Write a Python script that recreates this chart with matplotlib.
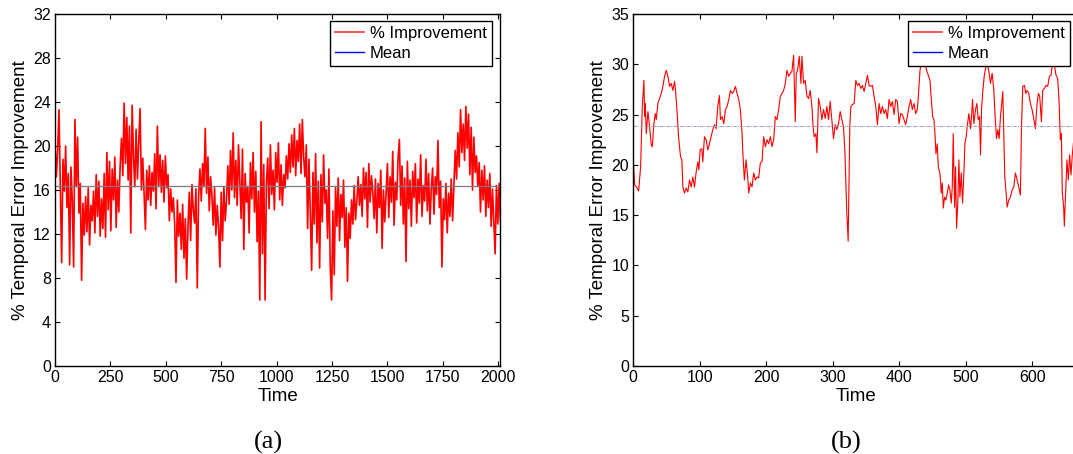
import matplotlib
matplotlib.use('Agg')
import matplotlib.pyplot as plt
from matplotlib.lines import Line2D

plt.rcParams['font.family'] = ['Liberation Sans', 'DejaVu Sans']

# (a) % improvement, one sample read every 6 time steps
a_step = 6
a_value = [
    20.4, 17.2, 19.6, 23.3, 16.1, 9.4, 18.8, 15.9, 20.0, 14.4,
    17.5, 9.2, 18.1, 15.0, 9.0, 22.4, 16.3, 20.8, 13.9, 16.6,
    7.8, 14.8, 11.9, 15.4, 12.2, 16.2, 11.0, 14.6, 13.2, 15.9,
    12.1, 17.4, 13.6, 16.8, 11.8, 15.2, 12.5, 17.5, 11.7, 19.4,
    14.2, 18.6, 12.3, 17.9, 15.1, 19.0, 12.6, 16.9, 14.0, 18.2,
    20.7, 17.3, 23.9, 18.4, 22.6, 16.9, 21.8, 12.1, 23.7, 19.2,
    16.3, 21.5, 17.0, 20.4, 23.4, 16.0, 18.9, 15.6, 12.4, 17.8,
    15.1, 18.2, 14.6, 17.6, 15.9, 19.3, 14.3, 21.8, 16.4, 19.2,
    15.8, 18.7, 14.9, 19.1, 16.2, 17.4, 13.2, 16.1, 14.0, 15.3,
    12.9, 7.6, 15.1, 11.8, 13.9, 10.6, 14.7, 9.8, 13.4, 7.9,
    12.6, 15.8, 11.4, 16.5, 14.2, 13.0, 16.1, 7.1, 15.4, 17.9,
    15.0, 18.4, 16.3, 21.6, 15.7, 19.0, 14.1, 17.2, 15.5, 12.8,
    16.2, 11.9, 14.6, 12.7, 9.0, 15.8, 11.4, 16.3, 13.2, 15.1,
    18.2, 14.7, 19.6, 16.0, 21.2, 15.3, 18.7, 14.6, 20.1, 16.8,
    13.4, 19.7, 10.6, 17.5, 14.9, 16.3, 12.1, 18.5, 15.2, 19.4,
    14.0, 17.7, 11.3, 15.9, 6.0, 22.2, 10.2, 18.3, 6.0, 16.6,
    18.9, 14.3, 20.1, 15.6, 17.8, 14.2, 19.4, 16.7, 20.3, 15.1,
    18.3, 14.6, 17.4, 16.2, 19.1, 17.0, 20.2, 17.6, 21.0, 18.1,
    21.6, 17.3, 20.5, 18.6, 22.0, 17.5, 22.4, 19.0, 17.2, 20.1,
    12.5, 18.8, 14.0, 8.7, 17.6, 12.9, 19.3, 11.2, 16.8, 8.9,
    17.4, 13.1, 19.2, 14.8, 16.0, 11.6, 17.9, 9.0, 6.0, 14.1,
    8.3, 16.2, 12.7, 17.1, 11.4, 15.6, 13.5, 16.9, 10.8, 14.4,
    7.7, 13.9, 11.6, 15.1, 12.9, 16.4, 13.3, 15.0, 17.2, 14.6,
    16.5, 13.6, 18.0, 15.2, 17.6, 12.6, 18.4, 14.9, 17.3, 15.8,
    13.4, 17.0, 12.1, 16.6, 14.4, 17.8, 10.7, 16.0, 13.1, 15.7,
    18.4, 13.5, 17.2, 14.9, 19.5, 12.8, 16.7, 15.1, 18.9, 20.6,
    14.6, 18.2, 12.9, 17.1, 9.5, 18.6, 14.3, 16.9, 12.7, 17.7,
    15.3, 18.4, 13.0, 17.0, 14.8, 19.2, 13.6, 16.4, 15.0, 18.8,
    14.1, 17.5, 12.9, 16.2, 18.0, 13.8, 17.2, 15.6, 20.5, 14.4,
    16.8, 9.0, 15.2, 13.3, 16.6, 12.1, 15.7, 13.6, 17.0, 13.2,
    16.3, 19.6, 17.0, 21.2, 18.1, 23.3, 19.4, 22.0, 18.7, 23.6,
    19.8, 22.9, 17.4, 21.7, 16.0, 20.8, 17.6, 19.1, 16.3, 18.5,
    14.0, 17.8, 15.1, 18.2, 13.6, 16.9, 14.4, 17.5, 12.7, 16.1,
    13.2, 10.2, 16.4, 12.9, 16.6, 13.1,
]
a_time = [i * a_step for i in range(len(a_value))]
a_mean = 16.4

# (b) % improvement
b_time = [
    0, 2, 5, 8, 11, 13.5, 16, 17, 18, 19.5,
    22, 24.5, 27, 28.5, 31, 33, 34.5, 37, 39.5, 42,
    44.5, 47, 49.5, 52, 54.5, 57, 59.5, 62, 63.5, 66,
    68, 71, 73, 74.5, 77, 79.5, 82, 84.5, 87, 89.5,
    92, 94.5, 97, 98.5, 100.5, 103, 104.5, 107, 109.5, 112,
    114.5, 117, 119.5, 122, 124.5, 127, 129.5, 131, 133.5, 136,
    138.5, 141, 143.5, 146, 148.5, 151, 153.5, 156, 158.5, 161,
    163.5, 165, 167, 169.5, 172, 173.5, 176, 178.5, 181, 183.5,
    186, 188.5, 191, 193.5, 196, 198.5, 201, 203.5, 206, 208.5,
    211, 213.5, 216, 218.5, 221, 223.5, 226, 228.5, 231, 233.5,
    236, 238.5, 241, 243.5, 245, 247, 249.5, 252, 253.5, 256,
    258.5, 261, 263.5, 266, 268.5, 270.5, 272, 274.5, 276, 278.5,
    281, 283.5, 286, 288.5, 291, 293.5, 296, 298.5, 301, 303.5,
    306, 308.5, 311, 313.5, 316,
    318, 321, 323, 325.5, 327, 329.5, 332, 334.5, 337, 339.5,
    342, 344.5, 347, 349.5, 352, 354.5, 357, 359.5, 362, 364.5,
    367, 369.5, 372, 374.5, 377, 379.5, 382, 384.5, 387, 389.5,
    392, 394.5, 397, 399.5, 402, 404.5, 407, 409.5, 412, 414.5,
    417, 419.5, 422, 424.5, 427, 428.5, 431, 433.5, 436, 438.5,
    441, 443.5, 446, 448, 450, 452, 453.5, 455, 457, 458.5,
    461, 463, 464.5, 466, 468, 470, 472, 474, 476, 478,
    479.5, 481, 483, 484.5, 486, 488, 489.5, 491, 493, 495,
    497, 498.5, 500.5, 502.5, 504.5, 507, 508.5, 510, 512, 514.5,
    516.5, 518.5, 520.5, 522, 523.5, 525.5, 527.5, 529.5, 532, 534.5,
    537, 539.5, 542, 544, 546, 548, 550, 552, 553.5, 555.5,
    557, 558.5, 560.5, 562, 564.5, 567, 569.5, 572, 574.5, 577,
    579.5, 582, 583.5, 585.5, 588, 590, 592, 594.5, 597, 599.5,
    602, 604.5, 607, 609, 611, 613.5, 615.5, 618, 620.5, 623,
    625.5, 628, 630.5, 633, 635.5, 638, 640, 642, 643.5, 645,
    647, 648, 649.5, 652, 654, 656, 658, 660, 662, 665,
    668,
]
b_value = [
    20.4, 18.0, 17.8, 17.4, 19.8, 25.8, 28.4, 24.8, 26.1, 23.1,
    25.3, 23.8, 22.0, 21.8, 24.1, 25.1, 24.5, 26.1, 26.6, 27.1,
    27.8, 28.8, 29.4, 28.8, 27.8, 28.1, 27.4, 28.3, 27.4, 25.1,
    22.8, 20.8, 20.5, 17.8, 17.2, 17.7, 17.3, 18.5, 17.8, 18.8,
    17.8, 19.3, 20.3, 19.5, 21.5, 21.6, 20.3, 22.8, 22.5, 21.5,
    22.1, 22.8, 23.5, 24.0, 23.6, 25.8, 26.9, 24.5, 24.8, 24.1,
    25.5, 25.8, 26.5, 27.4, 27.1, 27.3, 27.8, 27.1, 26.5, 25.5,
    23.1, 20.8, 18.5, 20.5, 18.8, 17.2, 18.2, 17.8, 19.2, 18.5,
    18.8, 18.7, 20.2, 20.3, 22.8, 21.8, 22.5, 22.1, 22.8, 21.8,
    22.5, 24.8, 24.5, 25.5, 26.8, 27.1, 27.4, 28.1, 29.4, 28.8,
    29.1, 29.3, 30.9, 24.3, 29.1, 29.4, 30.8, 28.1, 30.8, 28.1,
    28.4, 26.8, 26.6, 27.4, 25.8, 23.6, 22.8, 23.1, 21.2, 26.6,
    25.8, 24.5, 25.5, 24.6, 25.8, 24.5, 26.3, 24.5, 22.6, 24.0,
    23.5, 24.1, 25.3, 24.5, 23.8,
    21.5, 15.2, 12.4, 23.8, 25.8, 26.0, 26.1, 28.4, 27.9, 28.1,
    27.6, 27.9, 27.3, 28.1, 28.9, 27.9, 27.8, 27.9, 26.8, 25.8,
    24.0, 26.1, 25.1, 25.8, 25.1, 25.5, 24.6, 26.5, 25.8, 26.3,
    25.0, 26.5, 26.3, 24.1, 25.1, 25.0, 24.5, 24.0, 24.8, 25.8,
    26.5, 25.5, 26.1, 25.1, 25.5, 26.8, 29.4, 30.3, 29.8, 30.1,
    29.4, 28.9, 28.4, 26.5, 24.8, 24.5, 23.1, 21.1, 22.1, 19.8,
    19.2, 17.2, 18.2, 15.7, 16.8, 16.5, 17.2, 18.0, 17.5, 16.2,
    17.8, 23.1, 15.8, 19.8, 13.7, 16.5, 20.5, 16.8, 19.2, 16.2,
    19.2, 22.1, 22.8, 24.1, 25.1, 23.6, 24.8, 26.5, 24.1, 25.5,
    26.1, 24.5, 24.8, 21.0, 25.5, 27.4, 28.8, 29.6, 30.1, 29.3,
    28.1, 29.1, 27.4, 24.8, 22.6, 23.5, 22.6, 24.8, 25.8, 27.3,
    23.1, 18.8, 17.2, 15.8, 16.5, 16.8, 17.5, 17.8, 19.2, 18.5,
    17.8, 17.0, 23.5, 27.8, 27.9, 27.1, 27.4, 27.1, 26.1, 25.5,
    24.6, 23.6, 26.1, 27.1, 26.8, 24.3, 27.4, 27.6, 27.9, 27.8,
    28.8, 28.9, 30.3, 29.9, 28.9, 28.6, 26.5, 22.5, 23.1, 17.2,
    15.8, 13.9, 16.5, 20.5, 18.5, 21.0, 19.0, 21.0, 22.4, 21.8,
    22.6,
]
b_mean = 23.9

W, H = 1073.0, 454.0
fig = plt.figure(figsize=(W / 100, H / 100), dpi=100)


def style_axes(ax):
    ax.tick_params(direction='in', top=True, right=True, length=3.5, width=0.8,
                   labelsize=11.5, pad=3)
    for s in ax.spines.values():
        s.set_linewidth(1.0)
    ax.set_xlabel('Time', fontsize=13.5, labelpad=2)
    ax.set_ylabel('% Temporal Error Improvement', fontsize=13.5, labelpad=3)


def add_legend(ax, dx):
    handles = [Line2D([], [], color='#ff3030', lw=1.2),
               Line2D([], [], color='blue', lw=1.0)]
    leg = ax.legend(handles, ['% Improvement', 'Mean'], loc='upper right',
                    bbox_to_anchor=(1 - dx / 445.0, 1 - 6.7 / 352.0),
                    borderaxespad=0, fontsize=12, fancybox=False, framealpha=1,
                    edgecolor='black', handlelength=1.75, handletextpad=0.35,
                    labelspacing=0.3, borderpad=0.3)
    leg.get_frame().set_linewidth(1.0)


# panel (a)
ax1 = fig.add_axes([55 / W, 88 / H, 445 / W, 352 / H])
ax1.plot(a_time, a_value, color='red', lw=1.2)
ax1.axhline(a_mean, color='#7a7a86', lw=0.9)
ax1.set_xlim(0, 2008)
ax1.set_ylim(0, 32)
ax1.set_xticks(range(0, 2001, 250))
ax1.set_yticks(range(0, 33, 4))
style_axes(ax1)
add_legend(ax1, 8.3)

# panel (b)
ax2 = fig.add_axes([633.3 / W, 88 / H, 445 / W, 352 / H])
ax2.plot(b_time, b_value, color='red', lw=0.8)
ax2.axhline(b_mean, color='#a0a0bc', lw=0.8, ls=(0, (3, 1, 1, 1)))
ax2.set_xlim(0, 669)
ax2.set_ylim(0, 35)
ax2.set_xticks(range(0, 601, 100))
ax2.set_yticks(range(0, 36, 5))
style_axes(ax2)
add_legend(ax2, 8.8)

fig.text(268 / W, 1 - 442 / H, '(a)', fontsize=19, family='Liberation Serif',
         ha='center', va='center')
fig.text(846 / W, 1 - 442 / H, '(b)', fontsize=19, family='Liberation Serif',
         ha='center', va='center')

fig.savefig('out.png', dpi=100)
